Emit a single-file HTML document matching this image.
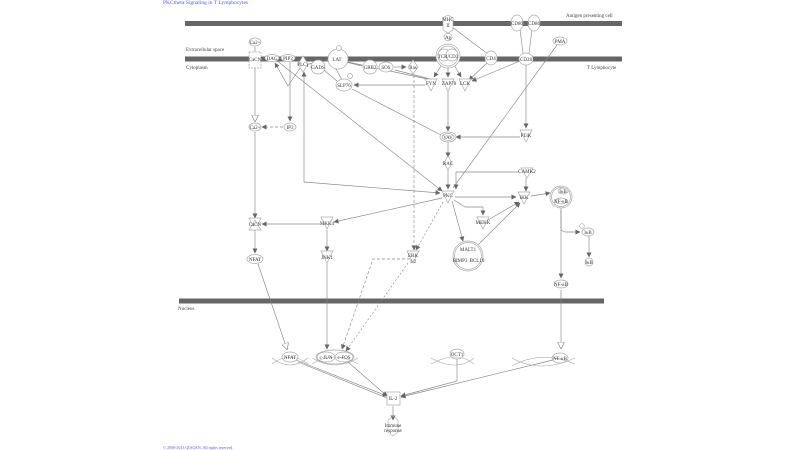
<!DOCTYPE html>
<html><head><meta charset="utf-8"><style>
html,body{margin:0;padding:0;background:#fff;}
svg{display:block;font-family:"Liberation Serif",serif;}
</style></head><body>
<svg width="800" height="450" viewBox="0 0 800 450" xmlns="http://www.w3.org/2000/svg">
<defs>
<marker id="a" markerWidth="5" markerHeight="5" refX="4.5" refY="2.5" orient="auto" markerUnits="userSpaceOnUse"><path d="M0,0 L5,2.5 L0,5 z" fill="#666"/></marker>
<marker id="o" markerWidth="7" markerHeight="7" refX="6" refY="3.5" orient="auto" markerUnits="userSpaceOnUse"><path d="M0,0 L7,3.5 L0,7 z" fill="#fff" stroke="#888" stroke-width="0.7"/></marker>
</defs>
<text x="163" y="4" font-size="5.5" fill="#55f">PKCtheta Signaling in T Lymphocytes</text>
<rect x="185" y="21" width="437" height="5" fill="#666"/>
<rect x="185" y="56.5" width="437" height="5" fill="#666"/>
<rect x="179" y="298.5" width="425" height="5" fill="#666"/>
<g font-size="5" fill="#444">
<text x="566" y="17">Antigen presenting cell</text>
<text x="186" y="51">Extracellular space</text>
<text x="186" y="69">Cytoplasm</text>
<text x="587" y="69">T Lymphocyte</text>
<text x="178" y="310">Nucleus</text>
</g>
<g stroke="#888" stroke-width="0.65" fill="none">
<line x1="255" y1="47" x2="255" y2="54"/>
<line x1="255" y1="66" x2="255" y2="121" marker-end="url(#o)"/>
<line x1="255" y1="132" x2="255" y2="218" marker-end="url(#a)"/>
<line x1="255" y1="230" x2="255" y2="253" marker-end="url(#a)"/>
<line x1="283" y1="127" x2="262" y2="127" stroke-dasharray="3,2" marker-end="url(#a)"/>
<line x1="290" y1="62" x2="290" y2="121" marker-end="url(#a)"/>
<line x1="288" y1="86" x2="275" y2="63" marker-end="url(#a)"/>
<line x1="288" y1="86" x2="300" y2="68"/>
<line x1="304" y1="182" x2="304" y2="72" marker-end="url(#a)"/>
<path d="M304 182 L440 193" marker-end="url(#a)"/>
<line x1="276" y1="60" x2="442" y2="191" marker-end="url(#a)"/>
<line x1="309" y1="64" x2="331" y2="60"/>
<line x1="336" y1="69" x2="342" y2="80"/>
<line x1="324" y1="70" x2="338" y2="82"/>
<line x1="346" y1="62" x2="362" y2="66"/>
<line x1="343" y1="61" x2="432" y2="80" />
<line x1="394" y1="67" x2="406" y2="67" marker-end="url(#a)"/>
<line x1="395" y1="70" x2="430" y2="79"/>
<line x1="425" y1="85" x2="354" y2="85" marker-end="url(#a)"/>
<line x1="352" y1="89" x2="441" y2="135"/>
<line x1="448" y1="90" x2="448" y2="131" marker-end="url(#a)"/>
<line x1="443" y1="63" x2="434" y2="77" marker-end="url(#a)"/>
<line x1="448" y1="66" x2="448" y2="77" marker-end="url(#a)"/>
<line x1="453" y1="63" x2="461" y2="77" marker-end="url(#a)"/>
<line x1="487" y1="63" x2="469" y2="80" marker-end="url(#a)"/>
<line x1="520" y1="61" x2="472" y2="81" marker-end="url(#a)"/>
<line x1="452" y1="27" x2="488" y2="54"/>
<line x1="520" y1="29" x2="523" y2="53"/>
<line x1="532" y1="29" x2="529" y2="53"/>
<line x1="526" y1="64" x2="526" y2="128" marker-end="url(#a)"/>
<line x1="520" y1="137" x2="456" y2="137" marker-end="url(#a)"/>
<line x1="448" y1="142" x2="448" y2="157" marker-end="url(#a)"/>
<line x1="448" y1="168" x2="448" y2="189" marker-end="url(#a)"/>
<line x1="557" y1="45" x2="453" y2="188"/>
<path d="M519 172 L456 172 L456 189" marker-end="url(#a)"/>
<line x1="526" y1="178" x2="526" y2="191" marker-end="url(#a)"/>
<line x1="455" y1="197" x2="516" y2="197" marker-end="url(#a)"/>
<line x1="531" y1="196" x2="550" y2="193" marker-end="url(#a)"/>
<path d="M454 200 L465 207 L483 207 L483 215" marker-end="url(#a)"/>
<line x1="452" y1="201" x2="463" y2="241" marker-end="url(#a)"/>
<line x1="477" y1="246" x2="520" y2="203" marker-end="url(#a)"/>
<line x1="488" y1="220" x2="519" y2="202" marker-end="url(#a)"/>
<line x1="442" y1="198" x2="334" y2="222" marker-end="url(#a)"/>
<line x1="320" y1="224" x2="262" y2="224" marker-end="url(#a)"/>
<line x1="327" y1="230" x2="327" y2="251" marker-end="url(#a)"/>
<line x1="443" y1="202" x2="416" y2="250" stroke-dasharray="2,2" marker-end="url(#a)"/>
<line x1="414" y1="70" x2="414" y2="250" stroke-dasharray="3,2" marker-end="url(#a)"/>
<path d="M561 205 L561 228 Q561 232 566 232 L580 232" marker-end="url(#a)"/>
<line x1="561" y1="210" x2="561" y2="278" marker-end="url(#a)"/>
<line x1="589" y1="236" x2="589" y2="257" marker-end="url(#a)"/>
<line x1="561" y1="290" x2="561" y2="348" marker-end="url(#o)"/>
<line x1="258" y1="264" x2="287" y2="349" marker-end="url(#o)"/>
<line x1="327" y1="263" x2="327" y2="349" marker-end="url(#a)"/>
<path d="M410 259 L373 259 L342 349" stroke-dasharray="3,2" marker-end="url(#a)"/>
<line x1="408" y1="263" x2="346" y2="351" stroke-dasharray="2,2" marker-end="url(#a)"/>
<line x1="296" y1="360" x2="387" y2="396" marker-end="url(#a)"/>
<line x1="298" y1="362" x2="387" y2="398" />
<line x1="348" y1="362" x2="387" y2="396" marker-end="url(#a)"/>
<path d="M457 359 L457 381 L401 396" marker-end="url(#a)"/>
<line x1="553" y1="360" x2="401" y2="397" marker-end="url(#a)"/>
<line x1="393" y1="406" x2="393" y2="420" marker-end="url(#a)"/>
</g>
<g stroke="#aaa" stroke-width="0.7" fill="#fff" font-size="5" text-anchor="middle">
<path d="M448 15 L453 18 L453 30 L448 33 L443 30 L443 18 z"/>
<ellipse cx="255" cy="42" rx="6" ry="4"/>
<rect x="249" y="52" width="12" height="16" stroke-dasharray="2,1"/>
<ellipse cx="272" cy="58" rx="7" ry="3.5"/>
<ellipse cx="288" cy="58" rx="7" ry="3.5"/>
<path d="M303 56 L308 64 L303 72 L298 64 z"/>
<circle cx="318" cy="67" r="7"/>
<circle cx="338" cy="59" r="10"/>
<circle cx="339" cy="48" r="2.5"/>
<circle cx="370" cy="67" r="7"/>
<ellipse cx="386" cy="67" rx="7" ry="5"/>
<path d="M413 60 L418 67 L413 74 L408 67 z"/>
<ellipse cx="344" cy="85" rx="8" ry="6"/>
<circle cx="350" cy="76" r="2.5"/>
<path d="M425 79 L437 79 L431 91 z"/>
<path d="M442 79 L454 79 L448 91 z"/>
<path d="M459 79 L471 79 L465 91 z"/>
<ellipse cx="448" cy="37" rx="4" ry="3.5"/>
<circle cx="448" cy="56" r="12"/><circle cx="448" cy="56" r="10"/>
<circle cx="444" cy="55" r="6"/><circle cx="452" cy="55" r="6"/>
<ellipse cx="491" cy="58" rx="6" ry="7"/>
<ellipse cx="517" cy="23" rx="6" ry="8"/>
<ellipse cx="534" cy="23" rx="6" ry="8"/>
<ellipse cx="526" cy="59" rx="7" ry="6"/>
<ellipse cx="560" cy="41" rx="7" ry="4"/>
<ellipse cx="255" cy="127" rx="6" ry="4"/>
<ellipse cx="290" cy="127" rx="6" ry="4"/>
<ellipse cx="448" cy="137" rx="8" ry="5"/><ellipse cx="448" cy="137" rx="6" ry="3.5"/>
<path d="M520 130 L532 130 L526 142 z"/>
<path d="M448 156 L452 163 L448 170 L444 163 z"/>
<path d="M521 168 L533 168 L527 178 z"/>
<path d="M442 191 L454 191 L448 203 z"/>
<path d="M518 192 L530 192 L524 204 z"/>
<circle cx="561" cy="197" r="11"/><circle cx="561" cy="197" r="9.5"/>
<ellipse cx="563" cy="191" rx="5" ry="3"/><ellipse cx="561" cy="201" rx="6" ry="3"/>
<path d="M477 217 L489 217 L483 229 z"/>
<path d="M249 218 L261 218 L255 230 z"/><path d="M249 230 L261 230 L255 220 z"/>
<path d="M321 217 L333 217 L327 229 z"/>
<ellipse cx="588" cy="232" rx="6" ry="4"/>
<circle cx="582" cy="226" r="2.3"/>
<ellipse cx="589" cy="262" rx="4" ry="4"/>
<circle cx="468" cy="256" r="15"/><circle cx="468" cy="256" r="13.5"/>
<path d="M407 251 L419 251 L413 263 z"/>
<path d="M321 251 L333 251 L327 263 z"/>
<ellipse cx="255" cy="259" rx="8" ry="4.5"/>
<ellipse cx="561" cy="284" rx="7" ry="4"/>
<ellipse cx="290" cy="357" rx="8" ry="5"/>
<ellipse cx="335" cy="357" rx="19" ry="7"/>
<ellipse cx="326" cy="357" rx="9" ry="5"/><ellipse cx="344" cy="357" rx="9" ry="5"/>
<ellipse cx="457" cy="354" rx="7" ry="5"/>
<ellipse cx="560" cy="358" rx="8" ry="5"/>
<rect x="387" y="392" width="13" height="13"/>
</g>
<g stroke="#aaa" stroke-width="0.6" fill="none">
<path d="M272 364 Q290 350 308 364 M272 358 Q290 372 308 358"/>
<path d="M312 364 Q335 350 358 364 M312 358 Q335 372 358 358"/>
<path d="M431 364 Q457 350 474 364 M431 358 Q457 372 474 358"/>
<path d="M512 366 Q540 350 575 364 M512 358 Q540 374 575 358"/>
<path d="M388 420 L393 416 L398 420 L398 432 L393 436 L388 432 z"/>
</g>
<g font-size="5" fill="#333" text-anchor="middle">
<text x="448" y="21">MHC</text><text x="448" y="27">II</text>
<text x="448" y="39">Ag</text>
<text x="448" y="58">TCR/CD3</text>
<text x="491" y="60">CD4</text>
<text x="517" y="25">CD80</text><text x="534" y="25">CD86</text>
<text x="526" y="61">CD28</text>
<text x="560" y="43">PMA</text>
<text x="255" y="44">Ca2+</text>
<text x="255" y="61">CaCN</text>
<text x="272" y="60">DAG</text>
<text x="288" y="60">PIP2</text>
<text x="303" y="66">PLCγ</text>
<text x="318" y="69">GADS</text>
<text x="337" y="61">LAT</text>
<text x="370" y="69">GRB2</text>
<text x="386" y="69">SOS</text>
<text x="413" y="69">Ras</text>
<text x="344" y="87">SLP76</text>
<text x="431" y="85">FYN</text><text x="449" y="85">ZAP70</text><text x="465" y="85">LCK</text>
<text x="255" y="129">Ca2+</text>
<text x="290" y="129">IP3</text>
<text x="448" y="139">VAV</text>
<text x="526" y="137">PI3K</text>
<text x="448" y="165">RAC</text>
<text x="527" y="173">CAMK2</text>
<text x="448" y="197">PKC</text>
<text x="524" y="199">IKK</text>
<text x="563" y="193">IκB</text><text x="561" y="203">NF-κB</text>
<text x="483" y="224">MEKK</text>
<text x="255" y="226">CaCN</text>
<text x="327" y="225">MKK4</text>
<text x="588" y="234">IκB</text>
<text x="589" y="264">IκB</text>
<text x="468" y="251">MALT1</text><text x="460" y="262">BIMP3</text><text x="477" y="262">BCL10</text>
<text x="413" y="257">ERK</text><text x="413" y="263">1/2</text>
<text x="327" y="259">JNK1</text>
<text x="255" y="261">NFAT</text>
<text x="561" y="286">NF-κB</text>
<text x="290" y="359">NFAT</text>
<text x="326" y="359">c-JUN</text><text x="344" y="359">c-FOS</text>
<text x="457" y="356">OCT1</text>
<text x="560" y="360">NF-κB</text>
<text x="393" y="400">IL-2</text>
<text x="393" y="427">Immune</text><text x="393" y="432">response</text>
</g>
<text x="163" y="449" font-size="4" fill="#55f">© 2000-2013 QIAGEN. All rights reserved.</text>
</svg>
</body></html>
